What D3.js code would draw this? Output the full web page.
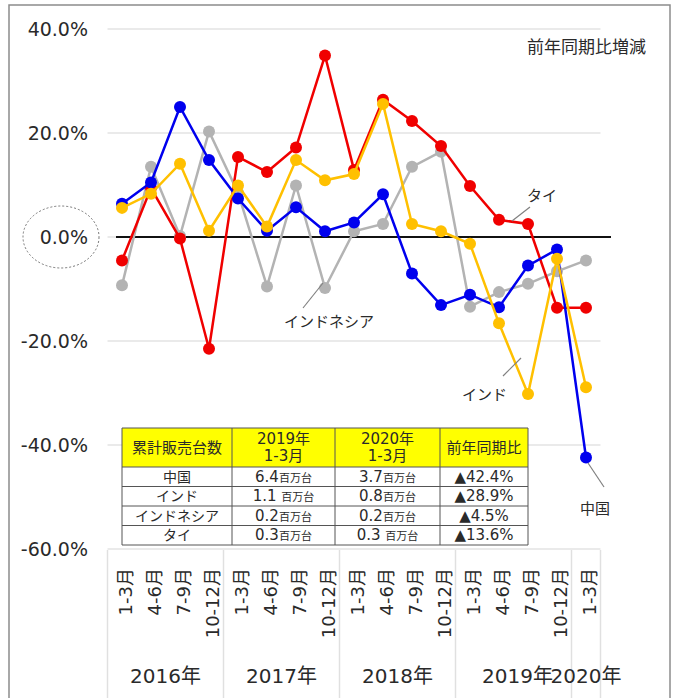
<!DOCTYPE html>
<html>
<head>
<meta charset="utf-8">
<script src="https://cdnjs.cloudflare.com/ajax/libs/d3/7.8.5/d3.min.js"></script>
<style>
  body { margin: 0; background: #fff; }
  svg text { font-family: "DejaVu Sans", "Noto Sans CJK JP", sans-serif; fill: #2a2a2a; }
</style>
</head>
<body>
<div id="chart"></div>
<script>
var width = 675;
var height = 698;

// quarters along the x axis
var quarters = ["1-3月","4-6月","7-9月","10-12月","1-3月","4-6月","7-9月","10-12月",
  "1-3月","4-6月","7-9月","10-12月","1-3月","4-6月","7-9月","10-12月","1-3月"];
var yearLabels = ["2016年","2017年","2018年","2019年","2020年"];
var yearSpans = [4, 4, 4, 4, 1];

// year-on-year change, %
var china     = [6.4, 10.5, 25.0, 14.8, 7.4, 1.2, 5.7, 1.1, 2.8, 8.2, -7.0, -13.1, -11.1, -13.5, -5.5, -2.4, -42.4];
var india     = [5.6, 8.3, 14.1, 1.2, 9.9, 2.0, 14.8, 10.9, 12.1, 25.6, 2.5, 1.1, -1.3, -16.6, -30.2, -4.2, -28.9];
var indonesia = [-9.3, 13.5, 0.2, 20.3, 8.5, -9.5, 9.9, -9.8, 1.1, 2.5, 13.5, 16.4, -13.4, -10.6, -9.0, -6.6, -4.5];
var thailand  = [-4.5, 9.4, -0.3, -21.5, 15.4, 12.5, 17.2, 34.9, 12.9, 26.4, 22.3, 17.5, 9.8, 3.3, 2.5, -13.6, -13.6];

var yTicks = [40, 20, 0, -20, -40, -60];

// table
var tableHeader = ["累計販売台数", "2019年\n1-3月", "2020年\n1-3月", "前年同期比"];
var tableNames = ["中国", "インド", "インドネシア", "タイ"];
var table2019 = ["6.4", "1.1 ", "0.2", "0.3"];
var table2020 = ["3.7", "0.8", "0.2", "0.3 "];
var tableYoy = ["▲42.4%", "▲28.9%", "▲4.5%", "▲13.6%"];

var svg = d3.select("#chart").append("svg")
  .attr("width", width)
  .attr("height", height);

// frame
svg.append("rect")
  .attr("x", 9).attr("y", 5)
  .attr("width", 661).attr("height", 700)
  .attr("fill", "#fff")
  .attr("stroke", "#8c8c8c")
  .attr("stroke-width", 1.5);

var xScale = d3.scaleBand()
  .domain(d3.range(quarters.length))
  .range([107.5, 600.5])
  .padding(0);
var cx = function(i) { return xScale(i) + xScale.bandwidth() / 2; };

var yScale = d3.scaleLinear()
  .domain([-60, 40])
  .range([549, 29]);

// gridlines
svg.append("g").selectAll("line")
  .data(yTicks)
  .enter().append("line")
  .attr("x1", 107.5).attr("x2", 600.5)
  .attr("y1", function(d) { return yScale(d); })
  .attr("y2", function(d) { return yScale(d); })
  .attr("stroke", "#e3e3e3")
  .attr("stroke-width", 1.5);

// y labels
var yAxis = d3.axisLeft(yScale)
  .tickValues(yTicks)
  .tickSize(0)
  .tickPadding(0)
  .tickFormat(function(d) { return d.toFixed(1) + "%"; });
var gy = svg.append("g")
  .attr("transform", "translate(88,0)")
  .call(yAxis);
gy.select(".domain").remove();
gy.selectAll("text")
  .style("font-size", "19px")
  .attr("fill", "#2a2a2a");

// dotted ellipse around 0.0%
svg.append("ellipse")
  .attr("cx", 61).attr("cy", yScale(0))
  .attr("rx", 38).attr("ry", 31)
  .attr("fill", "none")
  .attr("stroke", "#777")
  .attr("stroke-width", 1)
  .attr("stroke-dasharray", "2,2");

// x axis: quarter labels and year separators
var gx = svg.append("g");
gx.selectAll("text.q")
  .data(quarters)
  .enter().append("text")
  .attr("class", "q")
  .attr("transform", function(d, i) { return "translate(" + (cx(i) + 4) + ",568) rotate(-90)"; })
  .attr("text-anchor", "end")
  .attr("dy", "0.35em")
  .style("font-size", "18px")
  .text(function(d) { return d; });

var bounds = [0];
yearSpans.forEach(function(s) { bounds.push(bounds[bounds.length - 1] + s); });
gx.selectAll("line.sep")
  .data(bounds)
  .enter().append("line")
  .attr("class", "sep")
  .attr("x1", function(d) { return d < quarters.length ? xScale(d) : xScale(d - 1) + xScale.bandwidth(); })
  .attr("x2", function(d) { return d < quarters.length ? xScale(d) : xScale(d - 1) + xScale.bandwidth(); })
  .attr("y1", 550).attr("y2", 698)
  .attr("stroke", "#e0e0e0")
  .attr("stroke-width", 1.5);

gx.selectAll("text.yr")
  .data(yearLabels)
  .enter().append("text")
  .attr("class", "yr")
  .attr("x", function(d, i) {
    var a = xScale(bounds[i]);
    var b = xScale(bounds[i + 1] - 1) + xScale.bandwidth();
    return (a + b) / 2 + (i === 3 ? 4 : 0);
  })
  .attr("y", 683)
  .attr("text-anchor", "middle")
  .style("font-size", "20px")
  .text(function(d) { return d; });

// zero line
svg.append("line")
  .attr("x1", 116).attr("x2", 611)
  .attr("y1", yScale(0)).attr("y2", yScale(0))
  .attr("stroke", "#111")
  .attr("stroke-width", 2);

// series
var series = [
  { name: "インドネシア", values: indonesia, color: "#b3b3b3" },
  { name: "タイ", values: thailand, color: "#f00000" },
  { name: "中国", values: china, color: "#0000ee" },
  { name: "インド", values: india, color: "#ffc000" }
];

var line = d3.line()
  .x(function(d, i) { return cx(i); })
  .y(function(d) { return yScale(d); });

series.forEach(function(s) {
  var g = svg.append("g");
  g.append("path")
    .datum(s.values)
    .attr("fill", "none")
    .attr("stroke", s.color)
    .attr("stroke-width", 2.5)
    .attr("d", line);
  g.selectAll("circle")
    .data(s.values)
    .enter().append("circle")
    .attr("cx", function(d, i) { return cx(i); })
    .attr("cy", function(d) { return yScale(d); })
    .attr("r", 6)
    .attr("fill", s.color);
});

// annotation
svg.append("text")
  .attr("x", 646).attr("y", 53)
  .attr("text-anchor", "end")
  .style("font-size", "17px")
  .text("前年同期比増減");

// series labels with leader lines
var labels = [
  { text: "タイ", x: 527, y: 201, lx1: 530, ly1: 207, lx2: 512, ly2: 221 },
  { text: "インドネシア", x: 284, y: 327, lx1: 303, ly1: 308, lx2: 323, ly2: 283 },
  { text: "インド", x: 462, y: 400, lx1: 503, ly1: 376, lx2: 521, ly2: 358 },
  { text: "中国", x: 580, y: 514, lx1: 588, ly1: 463, lx2: 604, ly2: 487 }
];
labels.forEach(function(l) {
  svg.append("line")
    .attr("x1", l.lx1).attr("y1", l.ly1)
    .attr("x2", l.lx2).attr("y2", l.ly2)
    .attr("stroke", "#808080")
    .attr("stroke-width", 1.2);
  svg.append("text")
    .attr("x", l.x).attr("y", l.y)
    .style("font-size", "15px")
    .text(l.text);
});

// table
var colX = [122, 232, 335, 440, 528];
var rowY = [428, 467, 486.5, 506, 525.5, 545];
var tg = svg.append("g");
tg.append("rect")
  .attr("x", colX[0]).attr("y", rowY[0])
  .attr("width", colX[4] - colX[0]).attr("height", rowY[1] - rowY[0])
  .attr("fill", "#ffff00");
tg.append("rect")
  .attr("x", colX[0]).attr("y", rowY[1])
  .attr("width", colX[4] - colX[0]).attr("height", rowY[5] - rowY[1])
  .attr("fill", "#fff");
rowY.forEach(function(y) {
  tg.append("line")
    .attr("x1", colX[0]).attr("x2", colX[4])
    .attr("y1", y).attr("y2", y)
    .attr("stroke", "#555").attr("stroke-width", 1);
});
colX.forEach(function(x) {
  tg.append("line")
    .attr("x1", x).attr("x2", x)
    .attr("y1", rowY[0]).attr("y2", rowY[5])
    .attr("stroke", "#555").attr("stroke-width", 1);
});
tableHeader.forEach(function(h, c) {
  var parts = h.split("\n");
  var t = tg.append("text")
    .attr("x", (colX[c] + colX[c + 1]) / 2)
    .attr("text-anchor", "middle")
    .style("font-size", "15px");
  parts.forEach(function(p, k) {
    t.append("tspan")
      .attr("x", (colX[c] + colX[c + 1]) / 2)
      .attr("y", parts.length === 1 ? 453 : 444 + k * 17)
      .text(p);
  });
});
tableNames.forEach(function(name, r) {
  var y = (rowY[r + 1] + rowY[r + 2]) / 2 + 5;
  tg.append("text")
    .attr("x", (colX[0] + colX[1]) / 2).attr("y", y)
    .attr("text-anchor", "middle")
    .style("font-size", "14px")
    .text(name);
  [table2019, table2020].forEach(function(arr, k) {
    var t = tg.append("text")
      .attr("x", (colX[k + 1] + colX[k + 2]) / 2).attr("y", y)
      .attr("text-anchor", "middle")
      .style("font-size", "15px");
    t.append("tspan").text(arr[r]);
    t.append("tspan").style("font-size", "11px").text("百万台");
  });
  tg.append("text")
    .attr("x", (colX[3] + colX[4]) / 2).attr("y", y)
    .attr("text-anchor", "middle")
    .style("font-size", "15px")
    .text(tableYoy[r]);
});
</script>
</body>
</html>
